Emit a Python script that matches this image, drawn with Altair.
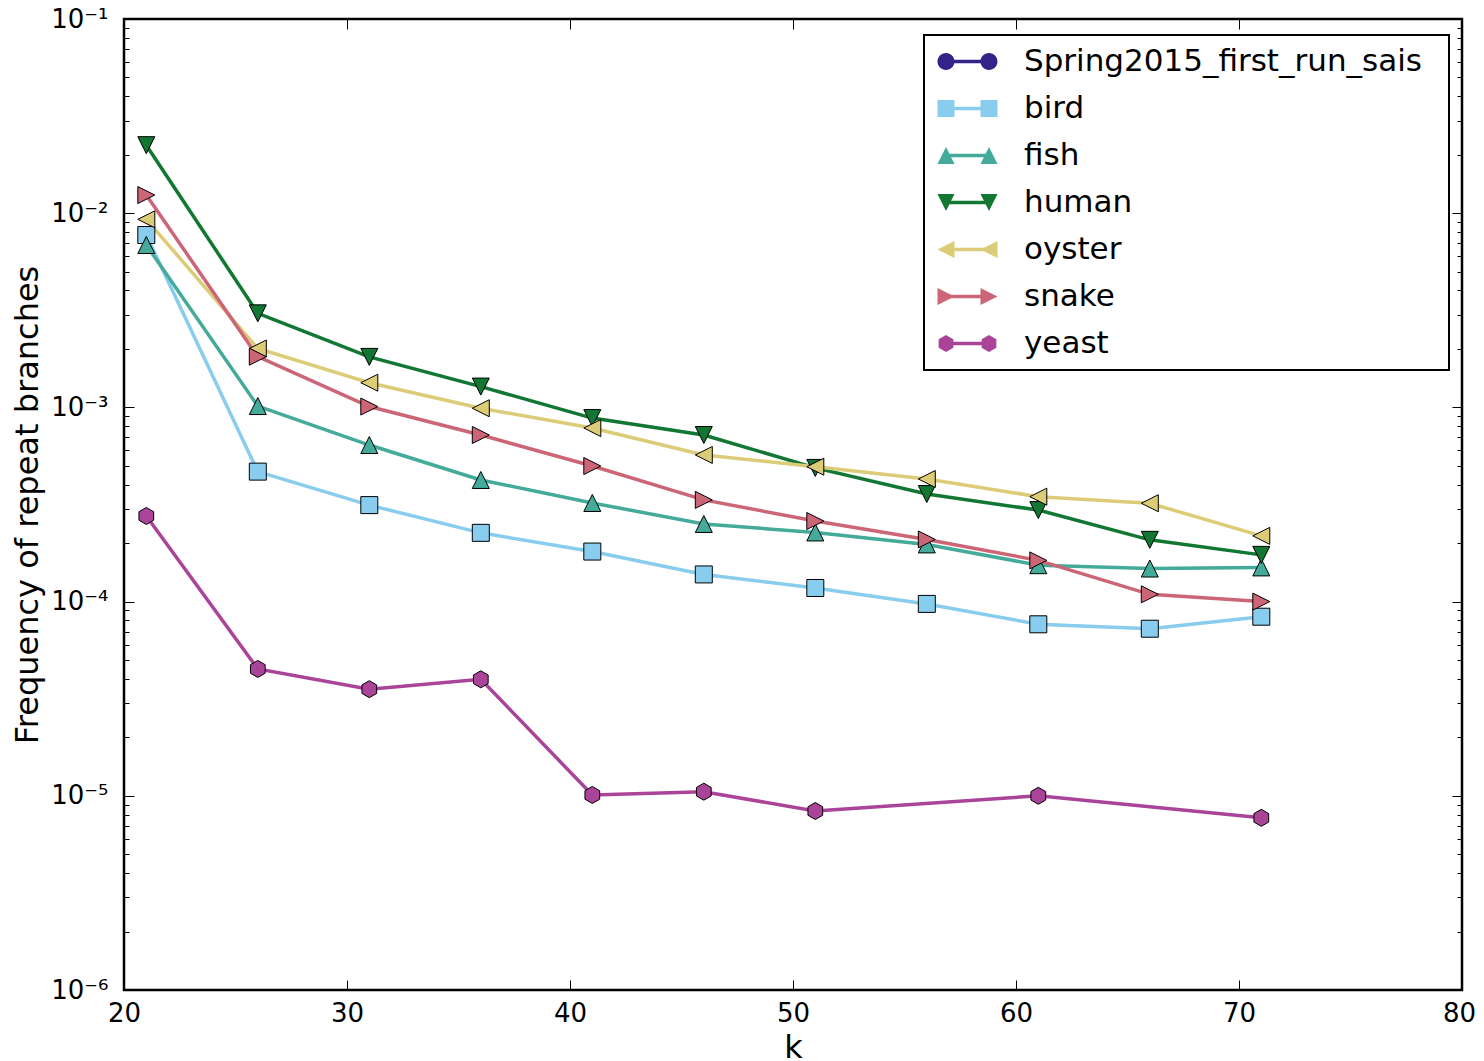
import altair as alt
import pandas as pd

# ---------------- data ----------------
k_values = [21, 26, 31, 36, 41, 46, 51, 56, 61, 66, 71]

series_names = ["Spring2015_first_run_sais", "bird", "fish", "human", "oyster", "snake", "yeast"]
series_colors = ["#332288", "#88CCEE", "#44AA99", "#117733", "#DDCC77", "#CC6677", "#AA4499"]

spring2015_values = [None, None, None, None, None, None, None, None, None, None, None]
bird_values = [0.00772, 0.000467, 0.000314, 0.000226, 0.000181, 0.000138, 0.0001175, 0.0000973, 0.0000764, 0.0000725, 0.0000836]
fish_values = [0.00686, 0.001016, 0.00064, 0.000423, 0.000322, 0.000251, 0.000227, 0.000197, 0.000154, 0.000148, 0.00015]
human_values = [0.0224, 0.00305, 0.00182, 0.00128, 0.000881, 0.000721, 0.000488, 0.000358, 0.000296, 0.000208, 0.000174]
oyster_values = [0.0093, 0.00201, 0.00134, 0.00099, 0.000783, 0.000569, 0.000495, 0.000428, 0.000347, 0.000321, 0.000218]
snake_values = [0.0124, 0.001824, 0.00101, 0.000721, 0.000499, 0.000334, 0.00026, 0.000209, 0.000163, 0.000109, 0.0001]
yeast_values = [0.000276, 0.000045, 0.0000354, 0.0000398, 0.0000101, 0.0000105, 0.00000835, None, 0.00001, None, 0.0000077]

x_tick_values = [20, 30, 40, 50, 60, 70, 80]
y_major_values = [1e-6, 1e-5, 1e-4, 1e-3, 1e-2, 1e-1]
y_minor_values = [m * 10.0 ** e for e in range(-6, -1) for m in range(2, 10)]

# ---------------- table ----------------
all_values = [spring2015_values, bird_values, fish_values, human_values,
              oyster_values, snake_values, yeast_values]
rows = []
for name, vals in zip(series_names, all_values):
    for k, v in zip(k_values, vals):
        if v is not None:
            rows.append({"k": k, "value": v, "series": name})
df = pd.DataFrame(rows)

# ---------------- marker shapes (matplotlib-like) ----------------
tri_up = [(0, -1), (1, 1), (-1, 1)]
tri_down = [(0, 1), (1, -1), (-1, -1)]
tri_left = [(-1, 0), (1, -1), (1, 1)]
tri_right = [(1, 0), (-1, -1), (-1, 1)]
hexagon = [(0, -1), (0.866, -0.5), (0.866, 0.5), (0, 1), (-0.866, 0.5), (-0.866, -0.5)]
square = [(-1, -1), (1, -1), (1, 1), (-1, 1)]


def poly(pts, dx=0.0):
    return "M" + "L".join(f"{x + dx:.4f},{y:.4f}" for x, y in pts) + "Z"


def circle(dx=0.0):
    return f"M{dx - 1:.4f},0A1,1,0,1,1,{dx + 1:.4f},0A1,1,0,1,1,{dx - 1:.4f},0Z"


marker_paths = ["circle", "square", poly(tri_up), poly(tri_down),
                poly(tri_left), poly(tri_right), poly(hexagon)]

MSIZE = 289          # marker area -> 17 px wide
D = 21.5 / 8.5       # legend: half distance between the two markers, in marker half-widths


def pair(fn_or_pts):
    if fn_or_pts == "circle":
        return circle(-D) + circle(D)
    return poly(fn_or_pts, -D) + poly(fn_or_pts, D)


pair_paths = [pair("circle"), pair(square), pair(tri_up), pair(tri_down),
              pair(tri_left), pair(tri_right), pair(hexagon)]
legend_line_path = f"M{-D:.4f},0L{D:.4f},0"

FONT = "DejaVu Sans"

# ---------------- scales & axes ----------------
x_scale = alt.Scale(domain=[20, 80], nice=False, zero=False)
y_scale = alt.Scale(type="log", domain=[1e-6, 1e-1], nice=False)

sup_expr = "'10' + ['\u207b\u2076','\u207b\u2075','\u207b\u2074','\u207b\u00b3','\u207b\u00b2','\u207b\u00b9'][round(log(datum.value) / LN10) + 6]"

common = dict(grid=False, domain=False, tickColor="black", tickWidth=1)

ax_bottom = alt.Axis(orient="bottom", values=x_tick_values, format="d", offset=-10, tickSize=10,
                     labelPadding=10, labelFont=FONT, labelFontSize=26, labelColor="black",
                     labelFlush=False, labelOverlap=False,
                     labelOffset={"condition": {"test": "datum.value >= 80", "value": -3}, "value": 0},
                     title="k", titleFont=FONT, titleFontSize=32, titleFontWeight="normal",
                     titleColor="black", titleY=77, titleBaseline="alphabetic", **common)
ax_top = alt.Axis(orient="top", values=x_tick_values, offset=-10, tickSize=10, labels=False,
                  title=None, **common)
ax_left_major = alt.Axis(orient="left", values=y_major_values, labelExpr=sup_expr, offset=-10,
                         tickSize=10, labelPadding=16, labelFont=FONT, labelFontSize=26,
                         labelColor="black", labelOverlap=False, labelFlush=False,
                         title="Frequency of repeat branches", titleFont=FONT, titleFontSize=32,
                         titleFontWeight="normal", titleColor="black", titleX=-96.5,
                         titleBaseline="alphabetic", **common)
ax_left_minor = alt.Axis(orient="left", values=y_minor_values, offset=-5, tickSize=5,
                         labels=False, title=None, **common)
ax_right_major = alt.Axis(orient="right", values=y_major_values, offset=-10, tickSize=10,
                          labels=False, title=None, **common)
ax_right_minor = alt.Axis(orient="right", values=y_minor_values, offset=-5, tickSize=5,
                          labels=False, title=None, **common)

legend_common = dict(title=None, orient="none", legendX=800, legendY=16, direction="vertical",
                     padding=11, symbolOffset=17, symbolSize=MSIZE, labelOffset=41,
                     labelFont=FONT, labelFontSize=31, labelColor="black", labelLimit=1000,
                     rowPadding=15, labelExpr="datum.label + '\u2002\u200b'")
legend_a = alt.Legend(symbolType=legend_line_path, symbolStrokeWidth=3.5,
                      strokeColor="black", fillColor="white", cornerRadius=0, **legend_common)
legend_b = alt.Legend(symbolStrokeColor="black", symbolStrokeWidth=1, symbolOpacity=1,
                      labelOpacity=0, **legend_common)


def X(axis):
    return alt.X("k:Q", scale=x_scale, axis=axis, title="k")


def Y(axis):
    return alt.Y("value:Q", scale=y_scale, axis=axis, title="Frequency of repeat branches")


def C(legend):
    return alt.Color("series:N", scale=alt.Scale(domain=series_names, range=series_colors),
                     legend=legend)


base = alt.Chart(df)

lines = base.mark_line(strokeWidth=3.5).encode(
    x=X(ax_bottom), y=Y(ax_left_major), color=C(None), order="k:Q")

points = base.mark_point(filled=True, size=MSIZE, stroke="black", strokeWidth=1, opacity=1).encode(
    x=X(ax_top), y=Y(ax_right_major), color=C(None),
    shape=alt.Shape("series:N", scale=alt.Scale(domain=series_names, range=marker_paths), legend=None))

minor_left = base.mark_point(opacity=0).encode(x=X(None), y=Y(ax_left_minor)).transform_filter("false")
minor_right = base.mark_point(opacity=0).encode(x=X(None), y=Y(ax_right_minor)).transform_filter("false")

legend_line = base.mark_line(strokeWidth=3.5).encode(
    x=X(None), y=Y(None), color=C(legend_a)).transform_filter("false")

legend_markers = base.mark_point(filled=True, size=MSIZE, stroke="black", strokeWidth=1, opacity=1).encode(
    x=X(None), y=Y(None), color=C(legend_b),
    shape=alt.Shape("series:N", scale=alt.Scale(domain=series_names, range=pair_paths),
                    legend=legend_b)).transform_filter("false")

chart = alt.layer(lines, points, minor_left, minor_right, legend_line, legend_markers).resolve_scale(
    color="independent", shape="independent"
).resolve_axis(
    x="independent", y="independent"
).properties(
    width=1338, height=971,
    autosize=alt.AutoSizeParams(type="none"),
    padding={"left": 116, "top": 11, "right": 14, "bottom": 70},
    title=alt.TitleParams("repeat branches in k-de Bruijn graph", font=FONT, fontSize=32,
                          fontWeight="normal", color="black", anchor="middle", offset=3,
                          baseline="alphabetic", frame="group"),
).configure(background="white").configure_view(stroke="black", strokeWidth=2.5).configure_legend(strokeWidth=2)

chart.save("out.html", embed_options={"renderer": "svg", "actions": False})
